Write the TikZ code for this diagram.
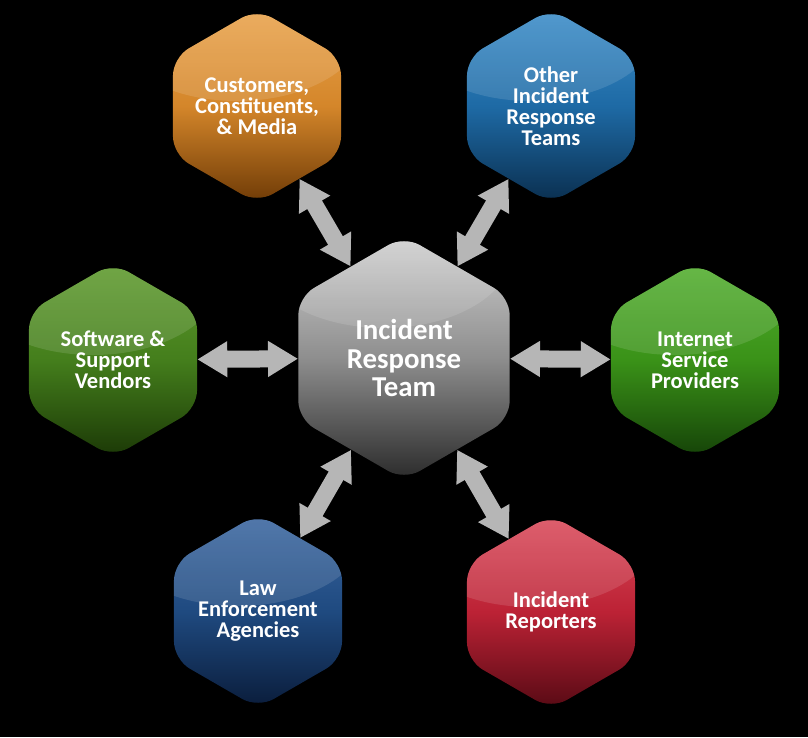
\documentclass[tikz,border=0pt]{standalone}
\usepackage{fontspec}
\setmainfont{Carlito}
\usetikzlibrary{shapes.geometric, arrows.meta}

\definecolor{arrowgray}{RGB}{182,182,182}
\definecolor{orgtop}{HTML}{E9A24A}
\definecolor{orgmid}{HTML}{D4862A}
\definecolor{orgbot}{HTML}{6E3A06}
\definecolor{blutop}{HTML}{3A8CC8}
\definecolor{blumid}{HTML}{1E6AA5}
\definecolor{blubot}{HTML}{0A2E4E}
\definecolor{olvtop}{HTML}{5E9A2C}
\definecolor{olvmid}{HTML}{447E1C}
\definecolor{olvbot}{HTML}{1B3806}
\definecolor{grntop}{HTML}{52AE2E}
\definecolor{grnmid}{HTML}{3A9218}
\definecolor{grnbot}{HTML}{154208}
\definecolor{navtop}{HTML}{3A66A0}
\definecolor{navmid}{HTML}{1F4A80}
\definecolor{navbot}{HTML}{0A1C3A}
\definecolor{redtop}{HTML}{DA4A5A}
\definecolor{redmid}{HTML}{BC2235}
\definecolor{redbot}{HTML}{560A14}
\definecolor{gratop}{HTML}{D0D0D0}
\definecolor{gramid}{HTML}{8E8E8E}
\definecolor{grabot}{HTML}{2A2A2A}

\begin{document}
\begin{tikzpicture}[x=0.025cm, y=-0.025cm,
    hex/.style={regular polygon, regular polygon sides=6, shape border rotate=30,
        minimum size=4.85cm, inner sep=0pt, rounded corners=0.45cm,
        path picture={\fill[white, opacity=0.12] ([xshift=-0.5cm, yshift=-0.4cm]path picture bounding box.north) ellipse (3.2cm and 1.9cm);}},
    big/.style={minimum size=6.1cm},
    shadeit/.style n args={3}{top color=#1, bottom color=#3, middle color=#2},
    txt/.style={text=white, font=\bfseries\fontsize{16}{15}\selectfont, align=center},
    bigtxt/.style={text=white, font=\bfseries\fontsize{20.5}{20}\selectfont, align=center},
    conn/.style={draw=arrowgray, line width=0.425cm,
        arrows={Triangle[width=0.85cm, length=0.75cm]-Triangle[width=0.85cm, length=0.75cm]}}
]
    \fill[black] (0,0) rectangle (808,737);
    \useasboundingbox (0,0) rectangle (808,737);

    \node[hex, big, shadeit={gratop}{gramid}{grabot}, label={[bigtxt]center:{Incident\\Response\\Team}}] (irt) at (404,358) {};
    \node[hex, shadeit={orgtop}{orgmid}{orgbot}, label={[txt]center:{Customers,\\Constituents,\\\& Media}}] (cust) at (257,106) {};
    \node[hex, shadeit={blutop}{blumid}{blubot}, label={[txt]center:{Other\\Incident\\Response\\Teams}}] (other) at (551,106) {};
    \node[hex, shadeit={olvtop}{olvmid}{olvbot}, label={[txt]center:{Software \&\\Support\\Vendors}}] (soft) at (113,360) {};
    \node[hex, shadeit={grntop}{grnmid}{grnbot}, label={[txt]center:{Internet\\Service\\Providers}}] (isp) at (695,360) {};
    \node[hex, shadeit={navtop}{navmid}{navbot}, label={[txt]center:{Law\\Enforcement\\Agencies}}] (law) at (258,611) {};
    \node[hex, shadeit={redtop}{redmid}{redbot}, label={[txt]center:{Incident\\Reporters}}] (rep) at (551,612) {};

    \draw[conn] (irt) -- (cust);
    \draw[conn] (irt) -- (other);
    \draw[conn] (irt) -- (soft);
    \draw[conn] (irt) -- (isp);
    \draw[conn] (irt) -- (law);
    \draw[conn] (irt) -- (rep);
\end{tikzpicture}
\end{document}
